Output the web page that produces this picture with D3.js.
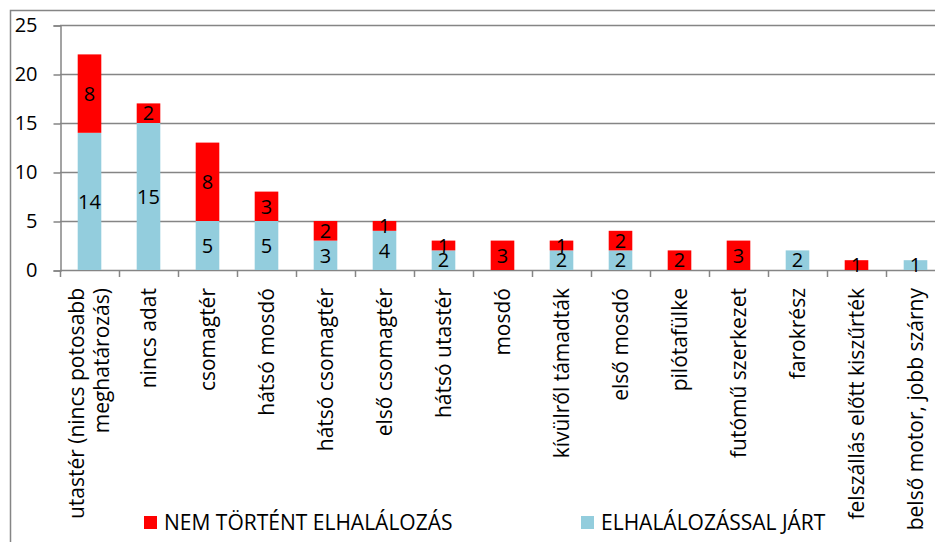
<!DOCTYPE html>
<html>
<head>
<meta charset="utf-8">
<script src="https://cdn.jsdelivr.net/npm/d3@7"></script>
<style>
    body { margin: 0; background: #fff; }
    svg { display: block; font-family: "Open Sans", sans-serif; }
</style>
</head>
<body>
<div id="chart"></div>
<script>
// Categories (x axis), in drawing order. Multi-line labels use "\n".
const categories = [
    'utastér (nincs potosabb\nmeghatározás)',
    'nincs adat',
    'csomagtér',
    'hátsó mosdó',
    'hátsó csomagtér',
    'első csomagtér',
    'hátsó utastér',
    'mosdó',
    'kívülről támadták',
    'első mosdó',
    'pilótafülke',
    'futómű szerkezet',
    'farokrész',
    'felszállás előtt kiszűrték',
    'belső motor, jobb szárny'
];

// Series values (bottom segment first).
const withDeaths = [14, 15, 5, 5, 3, 4, 2, 0, 2, 2, 0, 0, 2, 0, 1];
const noDeaths = [8, 2, 8, 3, 2, 1, 1, 3, 1, 2, 2, 3, 0, 1, 0];

const seriesNames = ['ELHALÁLOZÁSSAL JÁRT', 'NEM TÖRTÉNT ELHALÁLOZÁS'];
const seriesColors = ['#93cddd', '#ff0000'];

const yTicks = [0, 5, 10, 15, 20, 25];

const width = 935;
const height = 542;
const plot = { left: 60, right: 945, top: 25, bottom: 270 };
const fontSize = 20;
const labelSize = 21;
const gray = '#858585';

const svg = d3.select('#chart')
    .append('svg')
        .attr('width', width)
        .attr('height', height);

// Outer chart frame (only top and left edges are visible in the picture).
svg.append('path')
    .attr('d', `M10.5,${height} V10.5 H${width}`)
    .attr('fill', 'none')
    .attr('stroke', gray)
    .attr('stroke-width', 1.5);

// Scales.
const x = d3.scaleBand()
    .domain(categories)
    .range([plot.left, plot.right])
    .paddingInner(0.6)
    .paddingOuter(0.3);
const y = d3.scaleLinear()
    .domain([0, 25])
    .range([plot.bottom, plot.top]);

// Gridlines.
svg.append('g')
    .selectAll('line')
    .data(yTicks)
    .join('line')
        .attr('x1', plot.left)
        .attr('x2', plot.right)
        .attr('y1', d => Math.round(y(d)) + 0.5)
        .attr('y2', d => Math.round(y(d)) + 0.5)
        .attr('stroke', gray)
        .attr('stroke-width', 1.5);

// Y axis.
const yAxis = svg.append('g')
    .attr('transform', `translate(${plot.left + 0.5},0.5)`)
    .call(d3.axisLeft(y).tickValues(yTicks).tickSize(7).tickPadding(16));
yAxis.select('.domain').attr('stroke', gray).attr('stroke-width', 1.5);
yAxis.selectAll('.tick line').attr('stroke', gray).attr('stroke-width', 1.5);
yAxis.selectAll('text')
    .attr('fill', '#000')
    .style('font-size', `${fontSize}px`)
    .style('font-family', '"Open Sans", sans-serif');

// Stack the data.
const rows = categories.map((c, i) => ({ cat: c, s0: withDeaths[i], s1: noDeaths[i] }));
const stacked = d3.stack().keys(['s0', 's1'])(rows);

const layers = svg.append('g')
    .selectAll('g')
    .data(stacked)
    .join('g')
        .attr('fill', (d, i) => seriesColors[i]);

layers.selectAll('rect')
    .data(d => d.filter(p => p[1] - p[0] > 0))
    .join('rect')
        .attr('x', d => x(d.data.cat))
        .attr('y', d => y(d[1]))
        .attr('width', x.bandwidth())
        .attr('height', d => y(d[0]) - y(d[1]));

// Value labels, centered in each segment.
layers.selectAll('text')
    .data(d => d.filter(p => p[1] - p[0] > 0))
    .join('text')
        .attr('x', d => x(d.data.cat) + x.bandwidth() / 2)
        .attr('y', d => (y(d[0]) + y(d[1])) / 2)
        .attr('dy', '0.36em')
        .attr('text-anchor', 'middle')
        .attr('fill', '#000')
        .style('font-size', `${fontSize}px`)
        .text(d => d[1] - d[0]);

// X axis: tick marks at category boundaries.
const bounds = categories.map(c => x(c) - x.step() * x.paddingInner() / 2);
svg.append('g')
    .selectAll('line')
    .data(bounds)
    .join('line')
        .attr('x1', d => Math.round(d) + 0.5)
        .attr('x2', d => Math.round(d) + 0.5)
        .attr('y1', plot.bottom)
        .attr('y2', plot.bottom + 7)
        .attr('stroke', gray)
        .attr('stroke-width', 1.5);

// X axis labels, rotated.
const lineHeight = 1.2;
const xLabels = svg.append('g')
    .selectAll('text')
    .data(categories)
    .join('text')
        .attr('transform', d => `translate(${x(d) + x.bandwidth() / 2},288) rotate(-90)`)
        .attr('text-anchor', 'end')
        .attr('fill', '#000')
        .style('font-size', `${labelSize}px`);
xLabels.each(function (d) {
    const lines = d.split('\n');
    const first = 0.35 - (lines.length - 1) * lineHeight / 2;
    d3.select(this).selectAll('tspan')
        .data(lines)
        .join('tspan')
            .attr('x', 0)
            .attr('dy', (l, i) => i === 0 ? `${first}em` : `${lineHeight}em`)
            .text(l => l);
});

// Legend.
const legendItems = [
    { name: seriesNames[1], color: seriesColors[1], x: 144 },
    { name: seriesNames[0], color: seriesColors[0], x: 581 }
];
const legend = svg.append('g')
    .selectAll('g')
    .data(legendItems)
    .join('g')
        .attr('transform', d => `translate(${d.x},516)`);
legend.append('rect')
    .attr('width', 13)
    .attr('height', 13)
    .attr('fill', d => d.color);
legend.append('text')
    .attr('x', 20)
    .attr('y', 6.5)
    .attr('dy', '0.36em')
    .attr('fill', '#000')
    .style('font-size', `${labelSize}px`)
    .text(d => d.name);
</script>
</body>
</html>
